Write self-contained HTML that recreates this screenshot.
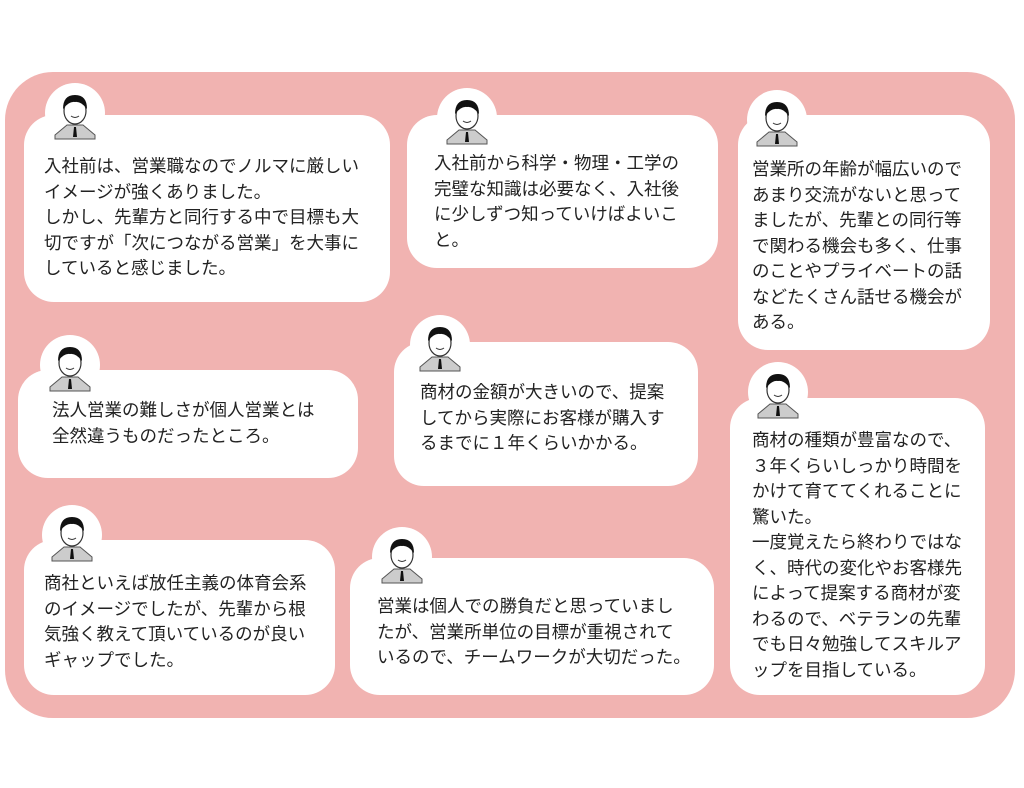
<!DOCTYPE html>
<html><head><meta charset="utf-8"><style>
body{margin:0;width:1024px;height:788px;background:#fff;position:relative;overflow:hidden;font-family:"Liberation Sans","Noto Sans CJK JP",sans-serif;}
.bg{position:absolute;left:5px;top:72px;width:1010px;height:646px;background:#f1b3b1;border-radius:48px;}
.b{position:absolute;background:#fff;border-radius:30px;}
.t{position:absolute;font-size:17.5px;line-height:25.5px;color:#222;white-space:nowrap;}
.a{position:absolute;width:60px;height:60px;border-radius:50%;background:#fff;}
.a svg{position:absolute;left:0;top:0}
</style></head><body>
<div class="bg"></div>

<!-- bubbles -->
<div class="b" style="left:24px;top:115px;width:366px;height:187px"></div>
<div class="b" style="left:407px;top:115px;width:311px;height:153px"></div>
<div class="b" style="left:738px;top:115px;width:252px;height:235px"></div>
<div class="b" style="left:18px;top:370px;width:340px;height:108px"></div>
<div class="b" style="left:394px;top:342px;width:304px;height:144px"></div>
<div class="b" style="left:730px;top:398px;width:255px;height:297px"></div>
<div class="b" style="left:24px;top:540px;width:311px;height:155px"></div>
<div class="b" style="left:350px;top:558px;width:364px;height:137px"></div>

<!-- avatars -->
<svg width="0" height="0" style="position:absolute"><defs>
<g id="av">
<path d="M10 52 L22 42 L38 42 L50 52 L50 56 L10 56Z" fill="#ccc" stroke="#555" stroke-width="1"/>
<ellipse cx="30" cy="28" rx="11" ry="13" fill="#fff" stroke="#333" stroke-width="1.2"/>
<path d="M18 26 Q18 12 30 12 Q42 12 42 26 Q36 18 30 19 Q24 18 18 26Z" fill="#111"/>
<path d="M26 33 Q30 36 34 33" fill="none" stroke="#333" stroke-width="1"/>
<path d="M29 44 L31 44 L32 54 L28 54Z" fill="#111"/>
</g></defs></svg>
<div class="a" style="left:45px;top:83px"><svg width="60" height="60"><use href="#av"/></svg></div>
<div class="a" style="left:437px;top:88px"><svg width="60" height="60"><use href="#av"/></svg></div>
<div class="a" style="left:747px;top:90px"><svg width="60" height="60"><use href="#av"/></svg></div>
<div class="a" style="left:40px;top:335px"><svg width="60" height="60"><use href="#av"/></svg></div>
<div class="a" style="left:410px;top:315px"><svg width="60" height="60"><use href="#av"/></svg></div>
<div class="a" style="left:748px;top:362px"><svg width="60" height="60"><use href="#av"/></svg></div>
<div class="a" style="left:42px;top:505px"><svg width="60" height="60"><use href="#av"/></svg></div>
<div class="a" style="left:372px;top:527px"><svg width="60" height="60"><use href="#av"/></svg></div>

<!-- texts -->
<div class="t" style="left:44px;top:154px">入社前は、営業職なのでノルマに厳しい<br>イメージが強くありました。<br>しかし、先輩方と同行する中で目標も大<br>切ですが「次につながる営業」を大事に<br>していると感じました。</div>
<div class="t" style="left:434px;top:151px">入社前から科学・物理・工学の<br>完璧な知識は必要なく、入社後<br>に少しずつ知っていけばよいこ<br>と。</div>
<div class="t" style="left:752px;top:157px">営業所の年齢が幅広いので<br>あまり交流がないと思って<br>ましたが、先輩との同行等<br>で関わる機会も多く、仕事<br>のことやプライベートの話<br>などたくさん話せる機会が<br>ある。</div>
<div class="t" style="left:52px;top:398px">法人営業の難しさが個人営業とは<br>全然違うものだったところ。</div>
<div class="t" style="left:420px;top:380px">商材の金額が大きいので、提案<br>してから実際にお客様が購入す<br>るまでに１年くらいかかる。</div>
<div class="t" style="left:752px;top:428px">商材の種類が豊富なので、<br>３年くらいしっかり時間を<br>かけて育ててくれることに<br>驚いた。<br>一度覚えたら終わりではな<br>く、時代の変化やお客様先<br>によって提案する商材が変<br>わるので、ベテランの先輩<br>でも日々勉強してスキルア<br>ップを目指している。</div>
<div class="t" style="left:44px;top:571px">商社といえば放任主義の体育会系<br>のイメージでしたが、先輩から根<br>気強く教えて頂いているのが良い<br>ギャップでした。</div>
<div class="t" style="left:377px;top:594px">営業は個人での勝負だと思っていまし<br>たが、営業所単位の目標が重視されて<br>いるので、チームワークが大切だった。</div>
</body></html>
